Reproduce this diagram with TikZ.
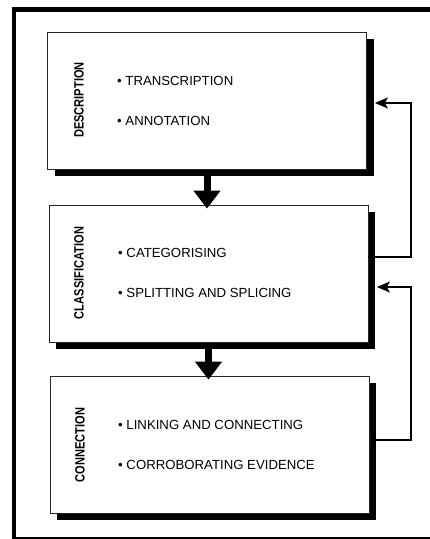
\documentclass[tikz,border=0pt]{standalone}
\usepackage{fontspec}
\setmainfont{Liberation Sans}
\newfontfamily\labelfont[FakeStretch=0.82]{Liberation Sans}
\usetikzlibrary{arrows.meta,shadows,calc}
\tikzset{
  stage/.style={draw=black!85, line width=0.8pt, fill=white, minimum width=319pt, minimum height=137pt, inner sep=0pt,
    drop shadow={shadow xshift=7pt, shadow yshift=-6.5pt, fill=black, opacity=1}},
  lbl/.style={rotate=90, font=\labelfont\bfseries\fontsize{13.5}{15}\selectfont, inner sep=0pt},
  item/.style={anchor=west, font=\fontsize{13.2}{15}\selectfont, inner sep=0pt, text height=9.3pt, text depth=0pt},
  bigarrow/.style={line width=7pt, -{Triangle[width=26pt,length=18pt]}},
  fb/.style={line width=1.3pt, -{Stealth[length=13pt,width=11pt,inset=3pt]}},
  frame/.style={line width=4.6pt}
}
\begin{document}
\begin{tikzpicture}[x=1pt,y=-1pt]
\useasboundingbox (0,0) rectangle (430,539);
\begin{scope}
  \clip (0,0) rectangle (430,539);
  \draw[frame] (14,9.3) rectangle (436,539.5);
\end{scope}

\node[stage] (d) at (207,101) {};
\node[stage] (c) at (208.5,273.5) {};
\node[stage] (n) at (209.5,444.5) {};

\node[lbl] (dl) at (79,100) {DESCRIPTION};
\node[lbl] (cl) at (79,273) {CLASSIFICATION};
\node[lbl] (nl) at (80,445) {CONNECTION};

\node[item] (d1) at (117,81) {• TRANSCRIPTION};
\node[item] (d2) at (117,120.5) {• ANNOTATION};
\node[item] (c1) at (118,253) {• CATEGORISING};
\node[item] (c2) at (118,293) {• SPLITTING AND SPLICING};
\node[item] (n1) at (118,424.5) {• LINKING AND CONNECTING};
\node[item] (n2) at (118,465) {• CORROBORATING EVIDENCE};

\draw[bigarrow] ([yshift=-4pt]d.south) -- ([yshift=-4pt]d.south |- c.north);
\draw[bigarrow] ([yshift=-4pt]c.south) -- ([yshift=-4pt]c.south |- n.north);

\coordinate (r) at (411,0);
\coordinate (a1) at ([yshift=16.5pt]c.east);
\coordinate (b1) at ([xshift=8pt,yshift=-2pt]d.east);
\coordinate (a2) at ([yshift=4.5pt]n.east);
\coordinate (b2) at ([xshift=8.5pt,yshift=-13.5pt]c.east);
\draw[fb] (a1) -- (a1 -| r) |- (b1);
\draw[fb] (a2) -- (a2 -| r) |- (b2);
\end{tikzpicture}
\end{document}
